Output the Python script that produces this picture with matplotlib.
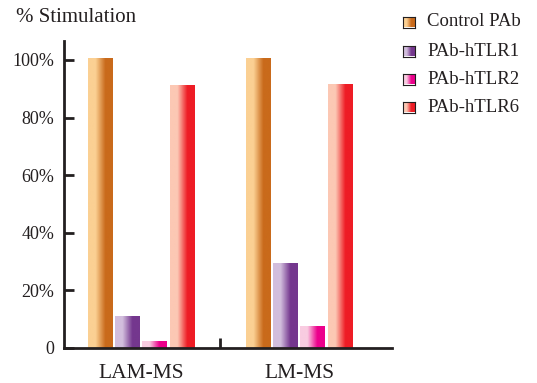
import numpy as np
import matplotlib
matplotlib.use("Agg")
import matplotlib.pyplot as plt
from matplotlib.colors import LinearSegmentedColormap
from matplotlib.transforms import blended_transform_factory

groups = ["LAM-MS", "LM-MS"]
series = ["Control PAb", "PAb-hTLR1", "PAb-hTLR2", "PAb-hTLR6"]
control = [100.5, 100.5]
tlr1 = [10.8, 29.2]
tlr2 = [2.1, 7.6]
tlr6 = [91.3, 91.5]
values = [control, tlr1, tlr2, tlr6]

# light -> dark colour pairs for the horizontal gradient fill
light = ["#FBD093", "#D2BEDD", "#F9CCE1", "#FCC8B4"]
dark = ["#C96A1B", "#74378E", "#EC008C", "#EE1C25"]

plt.rcParams["font.family"] = ["Liberation Serif", "DejaVu Serif"]
ink = "#231F20"


def gradient_cmap(c0, c1):
    return LinearSegmentedColormap.from_list(
        "g", [(0, c0), (0.3, c0), (0.7, c1), (1, c1)])


grad = np.linspace(0, 1, 64).reshape(1, -1)
W, H = 537, 383

fig = plt.figure(figsize=(5.37, 3.83), dpi=100)
ax = fig.add_axes([0.119, 0.0914, 0.611, 0.8016])

x = np.arange(len(groups))
offsets = [-0.26, -0.088, 0.082, 0.26]
width = 0.158

for i, vals in enumerate(values):
    bars = ax.bar(x + offsets[i], vals, width, color="none", linewidth=0)
    cmap = gradient_cmap(light[i], dark[i])
    for b in bars:
        x0, y0 = b.get_x(), b.get_y()
        ax.imshow(grad, cmap=cmap, aspect="auto", interpolation="bilinear",
                  extent=(x0, x0 + b.get_width(), y0, y0 + b.get_height()),
                  zorder=2)

ax.set_xlim(-0.49, 1.585)
ax.set_ylim(0, 106.6)

for side in ["top", "right"]:
    ax.spines[side].set_visible(False)
for side in ["left", "bottom"]:
    ax.spines[side].set_linewidth(2)
    ax.spines[side].set_color(ink)

ax.set_yticks([0, 20, 40, 60, 80, 100])
ax.set_yticklabels(["0", "20%", "40%", "60%", "80%", "100%"])
ax.tick_params(axis="y", direction="in", length=7, width=2, color=ink,
               labelsize=13, labelcolor=ink, pad=7)

ax.set_xticks([0.5])
ax.set_xticklabels([""])
ax.tick_params(axis="x", direction="in", length=7, width=2, color=ink)

# group labels sit just above the bottom edge of the figure
lab_tr = blended_transform_factory(ax.transData, fig.transFigure)
for xi, g in zip(x, groups):
    ax.text(xi, 1 - 378 / H, g, transform=lab_tr,
            ha="center", va="baseline", fontsize=15.5, color=ink)

fig.text(16 / W, 1 - 18 / H, "% Stimulation", fontsize=15, color=ink,
         ha="left", va="center")

# legend: gradient squares plus labels
rows = [22, 51, 79, 107]
for i, name in enumerate(series):
    yc = rows[i]
    sq = fig.add_axes([403 / W, 1 - (yc + 5.5) / H, 12 / W, 11 / H])
    sq.imshow(grad, cmap=gradient_cmap(light[i], dark[i]), aspect="auto",
              interpolation="bilinear")
    sq.set_xticks([])
    sq.set_yticks([])
    for s in sq.spines.values():
        s.set_linewidth(0.8)
        s.set_color(ink)
    fig.text(427 / W, 1 - yc / H, name, fontsize=13.5, color=ink,
             ha="left", va="center")

fig.savefig("out.png", dpi=100)
